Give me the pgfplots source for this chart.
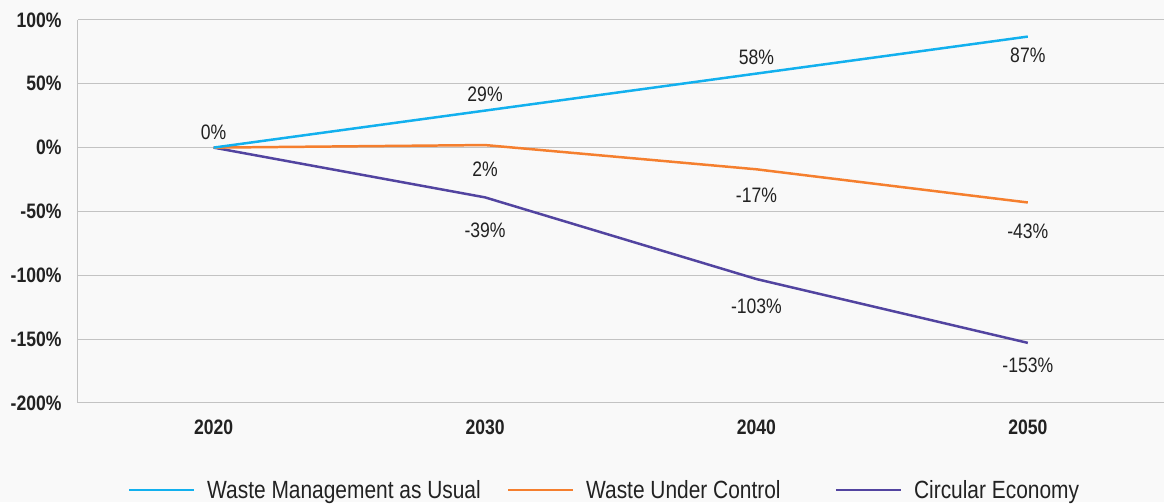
\documentclass[border=0pt]{standalone}
\usepackage{pgfplots}
\pgfplotsset{compat=1.18}
\usepackage{pgfplotstable}
\usepackage{fontspec}
\setmainfont{Liberation Sans}[FakeStretch=0.84]
\definecolor{bg}{HTML}{F9F9F9}
\definecolor{cblue}{HTML}{12B0EE}
\definecolor{corange}{HTML}{F57F2E}
\definecolor{cpurple}{HTML}{5244A0}
\definecolor{gridc}{HTML}{C3C3C3}
\definecolor{txt}{HTML}{222222}

\pgfplotstableread{
x y dy
0 0 15
1 29 16
2 58 16
3 87 -19
}\wmu
\pgfplotstableread{
x y dy
0 0 0
1 2 -24
2 -17 -26
3 -43 -29
}\wuc
\pgfplotstableread{
x y dy
0 0 0
1 -39 -33
2 -103 -27
3 -153 -22
}\ce

\begin{document}
\begin{tikzpicture}
\fill[bg] (-78bp,-99bp) rectangle (1086bp,403bp);
\begin{axis}[
  at={(0,0)}, anchor=south west,
  scale only axis, width=1086bp, height=383bp,
  xmin=-0.5, xmax=3.5, ymin=-200, ymax=100,
  xtick={0,1,2,3}, xticklabels={2020,2030,2040,2050},
  ytick={-200,-150,...,100},
  /pgf/number format/assume math mode=true,
  yticklabel={\pgfmathprintnumber{\tick}\%},
  ticklabel style={font=\fontsize{21}{24}\selectfont\bfseries, text=txt},
  xticklabel style={yshift=-14bp},
  yticklabel style={xshift=-13bp},
  major tick length=0pt,
  axis x line*=bottom, axis y line*=left,
  axis line style={gridc, line width=1pt},
  ymajorgrids, grid style={gridc, line width=1pt},
  nodes near coords={\pgfmathprintnumber{\pgfplotspointmeta}\%},
  every node near coord/.append style={font=\fontsize{21}{24}\selectfont, text=txt, anchor=center, yshift=\dy bp},
  visualization depends on={\thisrow{dy} \as \dy},
]
\addplot[cpurple, line width=2.5pt, no markers, nodes near coords={\ifnum\coordindex=0\else\pgfmathprintnumber{\pgfplotspointmeta}\%\fi}] table[x=x,y=y] {\ce};
\addplot[corange, line width=2.5pt, no markers, nodes near coords={\ifnum\coordindex=0\else\pgfmathprintnumber{\pgfplotspointmeta}\%\fi}] table[x=x,y=y] {\wuc};
\addplot[cblue, line width=2.5pt, no markers] table[x=x,y=y] {\wmu};
\end{axis}
\begin{axis}[
  at={(0,0)}, anchor=south west,
  scale only axis, width=1086bp, height=383bp,
  xmin=-0.5, xmax=3.5, ymin=-200, ymax=100,
  hide axis,
  legend columns=3,
  legend style={draw=none, fill=none, at={(0.485,-0.227)}, anchor=center,
    font=\fontsize{25}{28}\selectfont, text=txt,
    /tikz/every even column/.append style={column sep=24bp}},
  legend image code/.code={\draw[#1, line width=2.5pt] (0bp,0bp) -- (65bp,0bp); \path (76bp,0bp);},
]
\addlegendimage{cblue}
\addlegendentry{Waste Management as Usual}
\addlegendimage{corange}
\addlegendentry{Waste Under Control\rule{28bp}{0pt}}
\addlegendimage{cpurple}
\addlegendentry{Circular Economy}
\end{axis}
\end{tikzpicture}
\end{document}
